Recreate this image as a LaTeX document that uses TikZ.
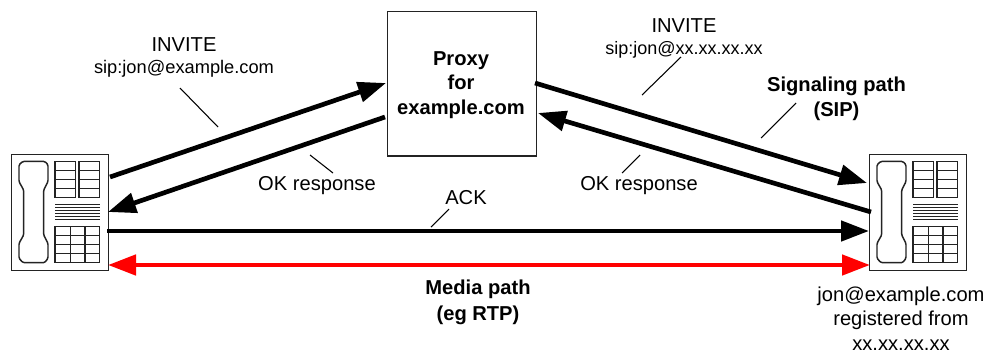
\documentclass[tikz,border=0pt]{standalone}
\usepackage{fontspec}
\setmainfont{Liberation Sans}
\usetikzlibrary{arrows.meta}
\definecolor{edgegray}{RGB}{35,35,35}
\tikzset{
  x=0.75pt,y=-0.75pt,
  boxline/.style={draw=edgegray,line width=1pt,fill=white},
  thin part/.style={draw=edgegray,line width=0.85pt},
  signal/.style={draw=black,line width=3.5pt,-{Triangle[length=21pt,width=15pt]}},
  media/.style={draw=red,line width=3.5pt,{Triangle[length=21pt,width=15pt]}-{Triangle[length=21pt,width=15pt]}},
  leader/.style={draw=black,line width=0.8pt},
  lbl/.style={font=\fontsize{15.1pt}{18pt}\selectfont,align=center,inner sep=0pt,text=black},
  sublbl/.style={font=\fontsize{13.7pt}{16pt}\selectfont,align=center,inner sep=0pt,text=black},
  boldlbl/.style={font=\fontsize{15.1pt}{18.6pt}\selectfont\bfseries,align=center,inner sep=0pt,text=black},
}
\newcommand{\phonedraw}[2]{%
  \node[boxline,minimum width=72.75pt,minimum height=87pt,inner sep=0pt,anchor=north west] (#1) at (#2,154) {};
  \begin{scope}[shift={(#2,154)},x=0.25pt,y=-0.25pt,xshift=-8.5pt]
    \draw[thin part,line width=1.1pt,rounded corners=1pt] (70,22)--(135,22)--(145,32)--(145,83)--(132,108)--(132,243)--(145,268)--(145,313)--(135,326)--(70,326)--(58,313)--(58,268)--(72,243)--(72,108)--(58,83)--(58,32)--cycle;
    \draw[thin part] (166,22) rectangle (228,130);
    \draw[thin part] (238,22) rectangle (300,130);
    \foreach \yy in {49,76,103} {\draw[thin part] (166,\yy)--(228,\yy); \draw[thin part] (238,\yy)--(300,\yy);}
    \foreach \yy in {151,161,170,179,187,196} {\draw[thin part] (166,\yy)--(300,\yy);}
    \draw[thin part] (166,218) rectangle (300,326);
    \foreach \yy in {245,271,298} {\draw[thin part] (166,\yy)--(300,\yy);}
    \foreach \xx in {212,256} {\draw[thin part] (\xx,218)--(\xx,326);}
  \end{scope}}
\begin{document}
\begin{tikzpicture}
\useasboundingbox (0,0) rectangle (990,354);
\phonedraw{left}{11}
\phonedraw{right}{869}
\node[boxline,minimum width=111.75pt,minimum height=108.25pt,inner sep=0pt,anchor=north west] (proxy) at (387,11) {};
\node[boldlbl] (proxytext) at (461,85) {Proxy\\for\\example.com};

\coordinate (a1) at (110,177); \coordinate (a2) at (386,83);
\coordinate (b1) at (385,117); \coordinate (b2) at (108,212);
\coordinate (c1) at (535,83);  \coordinate (c2) at (867,183);
\coordinate (d1) at (871,212); \coordinate (d2) at (538,113);
\coordinate (e1) at (107,231); \coordinate (e2) at (869,231);
\coordinate (f1) at (108,265); \coordinate (f2) at (870,265);
\draw[signal] (a1)--(a2);
\draw[signal] (b1)--(b2);
\draw[signal] (c1)--(c2);
\draw[signal] (d1)--(d2);
\draw[signal] (e1)--(e2);
\draw[media] (f1)--(f2);

\node[lbl] (inv1) at (184,45) {INVITE};
\node[sublbl] (inv1s) at (184,69) {sip:jon@example.com};
\node[lbl] (inv2) at (684,26) {INVITE};
\node[sublbl,font=\fontsize{13.5pt}{16pt}\selectfont] (inv2s) at (684,50) {sip:jon@xx.xx.xx.xx};
\node[boldlbl] (sig) at (836.5,99) {Signaling path\\(SIP)};
\node[lbl] (ok1) at (317,186) {OK response};
\node[lbl] (ok2) at (639,186) {OK response};
\node[lbl] (ack) at (466,198) {ACK};
\node[boldlbl,font=\fontsize{15.1pt}{19.5pt}\selectfont\bfseries] (media) at (478,302) {Media path\\(eg RTP)};
\node[lbl,font=\fontsize{15.1pt}{18.5pt}\selectfont] (reg) at (901,318.5) {jon@example.com\\registered from\\xx.xx.xx.xx};

\coordinate (l1a) at (180,88); \coordinate (l1b) at (218,127);
\coordinate (l2a) at (310,155); \coordinate (l2b) at (333,173);
\coordinate (l3a) at (681,57); \coordinate (l3b) at (642,95);
\coordinate (l4a) at (796,103); \coordinate (l4b) at (761,138);
\coordinate (l5a) at (640,155); \coordinate (l5b) at (622,173);
\coordinate (l6a) at (449,209); \coordinate (l6b) at (431,227);
\foreach \i in {1,...,6} {\draw[leader] (l\i a)--(l\i b);}
\end{tikzpicture}
\end{document}
